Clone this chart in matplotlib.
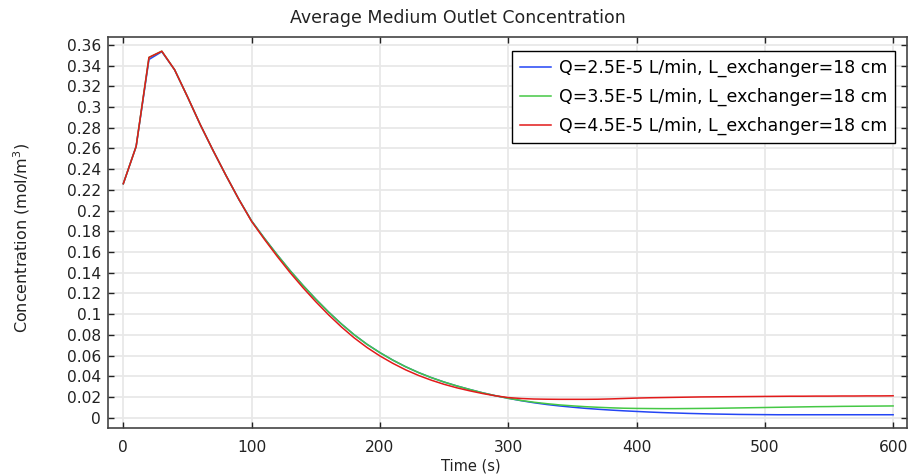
import matplotlib
matplotlib.use('Agg')
import matplotlib.pyplot as plt
from matplotlib.ticker import FuncFormatter

plt.rcParams['font.family'] = ['DejaVu Sans']

# time grid (s)
time_s = list(range(0, 601, 10))

# average outlet concentration (mol/m^3) for each flow rate
conc_q25 = [
    0.226, 0.262, 0.346, 0.3535, 0.336, 0.310, 0.283, 0.258, 0.234, 0.211,
    0.190, 0.1732, 0.1572, 0.1420, 0.1278, 0.1145, 0.1020, 0.0905, 0.0800, 0.0708,
    0.0628, 0.0556, 0.0492, 0.0436, 0.0387, 0.0344, 0.0306, 0.0272, 0.0240, 0.0212,
    0.0187, 0.0164, 0.0144, 0.0127, 0.0113, 0.0101, 0.0090, 0.0081, 0.0073, 0.0066,
    0.0060, 0.0054, 0.0049, 0.0045, 0.0041, 0.0038, 0.0035, 0.0033, 0.0031, 0.0030,
    0.0029, 0.0028, 0.0028, 0.0028, 0.0028, 0.0028, 0.0028, 0.0028, 0.0028, 0.0028,
    0.0028,
]
conc_q35 = [
    0.226, 0.262, 0.348, 0.354, 0.336, 0.310, 0.283, 0.258, 0.234, 0.211,
    0.190, 0.1732, 0.1572, 0.1420, 0.1278, 0.1145, 0.1020, 0.0905, 0.0800, 0.0708,
    0.0628, 0.0556, 0.0492, 0.0436, 0.0387, 0.0344, 0.0306, 0.0272, 0.0240, 0.0212,
    0.0187, 0.0166, 0.0149, 0.0135, 0.0123, 0.0114, 0.0106, 0.0100, 0.0095, 0.0091,
    0.0089, 0.0088, 0.0087, 0.0087, 0.0088, 0.0089, 0.0090, 0.0092, 0.0094, 0.0096,
    0.0098, 0.0100, 0.0102, 0.0104, 0.0106, 0.0107, 0.0109, 0.0110, 0.0111, 0.0112,
    0.0113,
]
conc_q45 = [
    0.226, 0.262, 0.348, 0.354, 0.336, 0.310, 0.283, 0.258, 0.234, 0.211,
    0.1895, 0.1722, 0.1557, 0.1401, 0.1256, 0.1120, 0.0993, 0.0876, 0.0770, 0.0677,
    0.0596, 0.0525, 0.0462, 0.0408, 0.0362, 0.0322, 0.0288, 0.0259, 0.0233, 0.0211,
    0.0194, 0.0185, 0.0180, 0.0178, 0.0177, 0.0177, 0.0177, 0.0178, 0.0181, 0.0185,
    0.0189, 0.0192, 0.0194, 0.0196, 0.0198, 0.0200, 0.0201, 0.0202, 0.0203, 0.0204,
    0.0205, 0.0206, 0.0207, 0.0207, 0.0208, 0.0208, 0.0209, 0.0209, 0.0210, 0.0210,
    0.0211,
]

series_labels = [
    'Q=2.5E-5 L/min, L_exchanger=18 cm',
    'Q=3.5E-5 L/min, L_exchanger=18 cm',
    'Q=4.5E-5 L/min, L_exchanger=18 cm',
]
x_ticks = [0, 100, 200, 300, 400, 500, 600]
y_ticks = [i * 0.02 for i in range(19)]

colors = ['#2345f5', '#45c845', '#e21a1a']
text_col = '#222222'

fig = plt.figure(figsize=(9.11, 4.76), dpi=100)
ax = fig.add_axes([0.1186, 0.1002, 0.8767, 0.8214])

for y, lab, c in zip([conc_q25, conc_q35, conc_q45], series_labels, colors):
    ax.plot(time_s, y, color=c, lw=1.1, label=lab)

ax.set_xlim(-11.9, 610.6)
ax.set_ylim(-0.0103, 0.3674)
ax.set_xticks(x_ticks)
ax.set_yticks(y_ticks)
ax.yaxis.set_major_formatter(FuncFormatter(
    lambda v, _: f'{v:.2f}'.rstrip('0').rstrip('.')))
ax.grid(True, color='#e8e8e8', lw=1.3)
ax.set_axisbelow(True)
ax.tick_params(direction='in', top=True, right=True, length=4,
               labelsize=11.2, colors=text_col, width=1)
ax.tick_params(axis='x', pad=8.4)
ax.tick_params(axis='y', pad=5)
for s in ax.spines.values():
    s.set_color('#444444')
    s.set_linewidth(1.2)

ax.set_xlabel('Time (s)', fontsize=10.5, color=text_col)
ax.xaxis.set_label_coords(0.454, -0.0785)
ax.set_ylabel('Concentration (mol/m$^3$)', fontsize=11.5, color=text_col)
ax.yaxis.set_label_coords(-0.095, 0.487)

fig.text(0.503, 0.962, 'Average Medium Outlet Concentration',
         ha='center', va='center', fontsize=12.5, color=text_col)

leg = ax.legend(loc='upper right', bbox_to_anchor=(0.9854, 0.965),
                fontsize=12.5, fancybox=False, framealpha=1,
                edgecolor='black', handlelength=1.8, handletextpad=0.45,
                borderpad=0.45, labelspacing=0.62, borderaxespad=0)
leg.get_frame().set_linewidth(1.0)

fig.savefig('out.png', dpi=100)
